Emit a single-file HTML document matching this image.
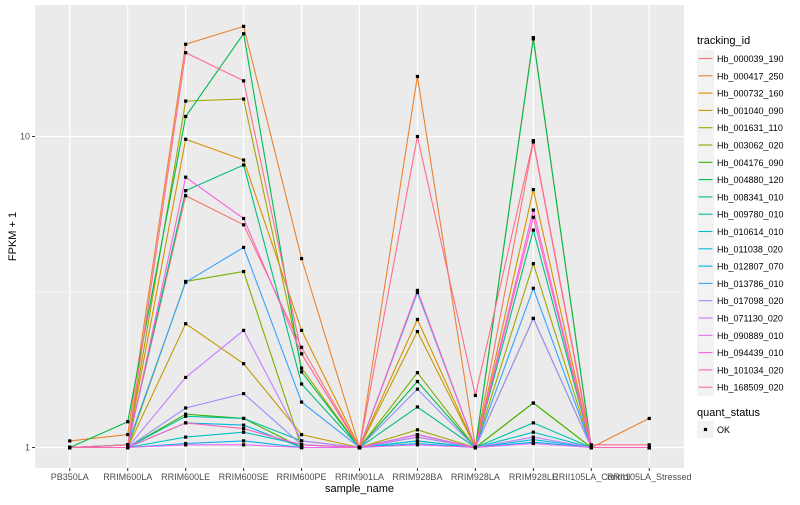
<!DOCTYPE html>
<html><head><meta charset="utf-8"><style>
body{margin:0;background:#fff;}
svg text{font-family:"Liberation Sans",sans-serif;}
</style></head><body>
<svg id="chart" width="800" height="500" xmlns="http://www.w3.org/2000/svg"></svg>
<script>
const categories=["PB350LA","RRIM600LA","RRIM600LE","RRIM600SE","RRIM600PE","RRIM901LA","RRIM928BA","RRIM928LA","RRIM928LE","RRII105LA_Control","RRII105LA_Stressed"];
const seriesNames=["Hb_000039_190","Hb_000417_250","Hb_000732_160","Hb_001040_090","Hb_001631_110","Hb_003062_020","Hb_004176_090","Hb_004880_120","Hb_008341_010","Hb_009780_010","Hb_010614_010","Hb_011038_020","Hb_012807_070","Hb_013786_010","Hb_017098_020","Hb_071130_020","Hb_090889_010","Hb_094439_010","Hb_101034_020","Hb_168509_020"];
const s01=[1,1.02,6.45,5.2,2.1,1,1.1,1,9.6,1,1];
const s02=[1.05,1.1,19.8,22.6,4.05,1,15.6,1,20.8,1,1.24];
const s03=[1,1.02,9.8,8.4,2.38,1,2.58,1,6.75,1,1];
const s04=[1,1,2.5,1.86,1.1,1,2.36,1,2.6,1,1];
const s05=[1,1.02,13,13.2,1.8,1,1.14,1,3.9,1,1];
const s06=[1,1,3.42,3.68,1.0,1,1.74,1,1.39,1,1];
const s07=[1,1,1.28,1.24,1,1,1.05,1,1.39,1,1];
const s08=[1,1.21,11.6,21.4,1.75,1,1.63,1,20.6,1,1];
const s09=[1,1.02,6.7,8.1,1.6,1,1.35,1,5.0,1,1];
const s10=[1,1,1.26,1.24,1.05,1,1.1,1,1.2,1,1];
const s11=[1,1,1.08,1.12,1.02,1,1.08,1,1.12,1,1];
const s12=[1,1,1.2,1.18,1,1,1.05,1,1.06,1,1];
const s13=[1,1,1.03,1.05,1,1,1.03,1,1.04,1,1];
const s14=[1,1.02,3.4,4.4,1.4,1,3.15,1,3.25,1,1];
const s15=[1,1,1.34,1.49,1.02,1,1.54,1,2.6,1,1];
const s16=[1,1,1.68,2.38,1.05,1,1.08,1,1.08,1,1];
const s17=[1,1,1.02,1.02,1,1,1.02,1,1.03,1,1];
const s18=[1,1,7.4,5.45,2.0,1,1.1,1,5.8,1,1];
const s19=[1,1,1.2,1.15,1.02,1,3.2,1,5.5,1,1];
const s20=[1,1.02,18.6,15.1,2.0,1,10,1.47,9.7,1.02,1.02];
const seriesValues=[s01,s02,s03,s04,s05,s06,s07,s08,s09,s10,s11,s12,s13,s14,s15,s16,s17,s18,s19,s20];
const yTicks=[1,10];
const yTickLabels=["1","10"];
const colors=["#F8766D","#EA8331","#D89000","#C09B00","#A3A500","#7CAE00","#39B600","#00BB4E","#00BF7D","#00C1A3","#00BFC4","#00BAE0","#00B0F6","#35A2FF","#9590FF","#C77CFF","#E76BF3","#FA62DB","#FF62BC","#FF6C91"];

const NS="http://www.w3.org/2000/svg";
const svg=document.getElementById('chart');
const P={l:35,r:684,t:5,b:468};
const step=(P.r-P.l)/(categories.length-1+1.2);
function xs(i){return P.l+step*(0.6+i);}
function ys(v){return 447.5-311*Math.log10(v);}
function mk(tag,attrs,parent){const e=document.createElementNS(NS,tag);for(const k in attrs)e.setAttribute(k,attrs[k]);(parent||svg).appendChild(e);return e;}

const panel=mk('rect',{x:P.l,y:P.t,width:P.r-P.l,height:P.b-P.t,fill:'#EBEBEB'});


[Math.sqrt(10)].forEach(v=>{const g=mk('line',{x1:P.l,x2:P.r,y1:ys(v),y2:ys(v),stroke:'#fff','stroke-width':0.6});

});
yTicks.forEach((v,i)=>{
 const g=mk('line',{x1:P.l,x2:P.r,y1:ys(v),y2:ys(v),stroke:'#fff','stroke-width':1.2});
 
 
 mk('line',{x1:P.l-3,x2:P.l,y1:ys(v),y2:ys(v),stroke:'#333','stroke-width':1});
 const t=mk('text',{x:P.l-5,y:ys(v)+3,'text-anchor':'end','font-size':9,fill:'#4D4D4D'});
 t.textContent=yTickLabels[i];
 
 
});
categories.forEach((c,i)=>{
 const g=mk('line',{x1:xs(i),x2:xs(i),y1:P.t,y2:P.b,stroke:'#fff','stroke-width':1.2});
 
 
 mk('line',{x1:xs(i),x2:xs(i),y1:P.b,y2:P.b+3,stroke:'#333','stroke-width':1});
 const t=mk('text',{x:xs(i),y:P.b+12,'text-anchor':'middle','font-size':9,fill:'#4D4D4D'});
 t.textContent=c;
 
 
});
seriesValues.forEach((vals,si)=>{
 const pts=vals.map((v,i)=>xs(i).toFixed(1)+','+ys(v).toFixed(1)).join(' ');
 const pl=mk('polyline',{points:pts,fill:'none',stroke:colors[si],'stroke-width':1.1});
 
 
});
seriesValues.forEach((vals,si)=>{
 vals.forEach((v,i)=>{
  const r=mk('rect',{x:xs(i)-1.6,y:ys(v)-1.6,width:3.2,height:3.2,fill:'#000'});
  
  
 });
});
let t=mk('text',{x:(P.l+P.r)/2,y:492,'text-anchor':'middle','font-size':11,fill:'#000'});
t.textContent='sample_name';


t=mk('text',{x:0,y:0,'text-anchor':'middle','font-size':11,fill:'#000',transform:'translate(16,'+((P.t+P.b)/2)+') rotate(-90)'});
t.textContent='FPKM + 1';


t=mk('text',{x:697,y:44,'font-size':11,fill:'#000'});
t.textContent='tracking_id';


seriesNames.forEach((n,i)=>{
 const y=50+i*17.3;
 const g=mk('g',{});
 
 
 mk('rect',{x:697,y:y,width:17,height:17,fill:'#F2F2F2'},g);
 mk('line',{x1:698.5,x2:712.5,y1:y+8.5,y2:y+8.5,stroke:colors[i],'stroke-width':1.1},g);
 const tt=mk('text',{x:717,y:y+12,'font-size':9,fill:'#000'},g);
 tt.textContent=n;
});
t=mk('text',{x:697,y:416,'font-size':11,fill:'#000'});
t.textContent='quant_status';


const q=mk('g',{});


mk('rect',{x:697,y:421,width:17,height:17,fill:'#F2F2F2'},q);
mk('rect',{x:703.9,y:427.9,width:3.2,height:3.2,fill:'#000'},q);
const ok=mk('text',{x:717,y:433,'font-size':9,fill:'#000'},q);
ok.textContent='OK';
</script>
</body></html>
